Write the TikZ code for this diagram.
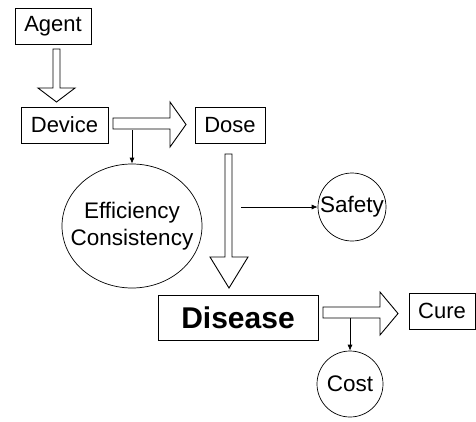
\documentclass[tikz,border=0pt]{standalone}
\usepackage{fontspec}
\setmainfont{Liberation Sans}
\usetikzlibrary{calc,shapes.geometric,arrows.meta}
\begin{document}
\begin{tikzpicture}[x=1pt,y=-1pt,
  box/.style={draw,line width=0.9pt,inner sep=0pt,font=\fontsize{22}{26}\selectfont},
  roundbox/.style={draw,line width=0.7pt,inner sep=0pt},
  roundtext/.style={inner sep=0pt,align=center,font=\fontsize{22.5}{27}\selectfont},
  hollow/.style={draw,line width=0.9pt,fill=white,line join=miter},
  thinarrow/.style={draw,line width=0.7pt,-{Latex[length=6pt,width=5pt]}}]
\useasboundingbox (0,0) rectangle (476,421);
% nodes
\node[box,minimum width=76pt,minimum height=36pt] (agent) at (53,26) {Agent};
\node[box,minimum width=87pt,minimum height=36pt] (device) at (64.5,125) {Device};
\node[box,minimum width=70pt,minimum height=36pt] (dose) at (230,125) {Dose};
\node[box,minimum width=160pt,minimum height=45pt,font=\fontsize{30}{33}\selectfont\bfseries] (disease) at (238,317.5) {Disease};
\node[box,minimum width=66pt,minimum height=36pt] (cure) at (442,311) {Cure};
\node[roundbox,ellipse,minimum width=140pt,minimum height=124pt] (eff) at (132,226) {};
\node[roundtext] (efftext) at (eff.center) {Efficiency\\Consistency};
\node[roundbox,circle,minimum size=68pt] (safety) at (352,207) {};
\node[roundtext] (safetytext) at (safety.center) {Safety};
\node[roundbox,circle,minimum size=66pt] (cost) at (350,384) {};
\node[roundtext] (costtext) at (cost.center) {Cost};
% hollow block arrows
\draw[hollow] (53,49) -- (60,49) -- (60,88) -- (75,88) -- (56.5,102) -- (38,88) -- (53,88) -- cycle;
\draw[hollow] (113,118) -- (170,118) -- (170,102) -- (186,124.5) -- (170,147) -- (170,129) -- (113,129) -- cycle;
\draw[hollow] (225,154) -- (232,154) -- (232,257) -- (248,257) -- (229,288) -- (210,257) -- (225,257) -- cycle;
\draw[hollow] (323,307) -- (380,307) -- (380,292) -- (398,313.5) -- (380,335) -- (380,318) -- (323,318) -- cycle;
% thin arrows
\coordinate (s1) at (132,130);
\coordinate (s2) at (241,207);
\coordinate (s3) at (350,318);
\draw[thinarrow] (s1) -- (eff.north);
\draw[thinarrow] (s2) -- (safety.west);
\draw[thinarrow] (s3) -- (cost.north);
\end{tikzpicture}
\end{document}
